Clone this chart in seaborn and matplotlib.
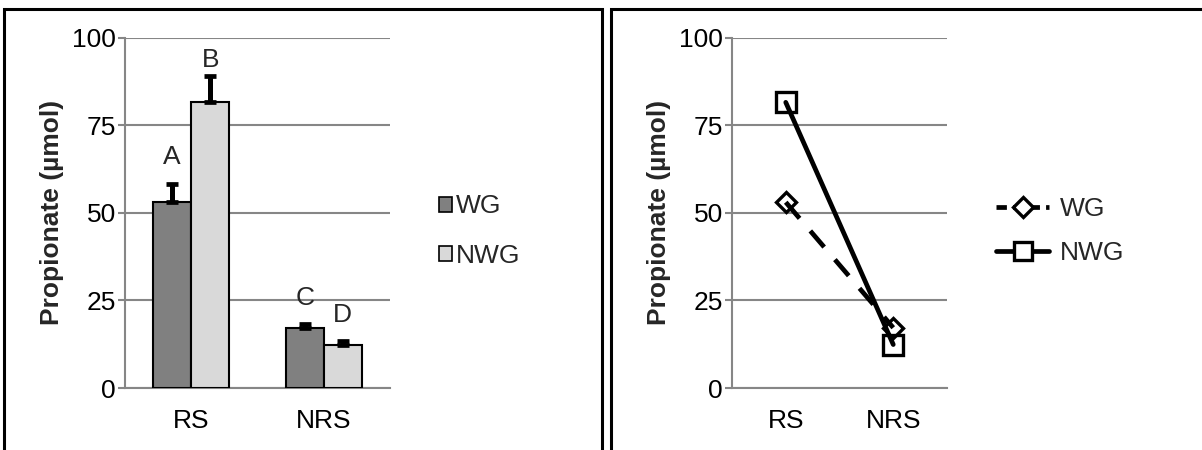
import matplotlib
matplotlib.use("Agg")
import matplotlib.pyplot as plt
import matplotlib.patches as mpatches
from matplotlib.lines import Line2D
import numpy as np
import pandas as pd
import seaborn as sns

# Data
sites = ["RS", "NRS"]
groups = ["WG", "NWG"]
wg_mean = [53.0, 17.2]
nwg_mean = [81.5, 12.4]
wg_err = [5.1, 1.1]
nwg_err = [7.5, 0.9]
wg_letters = ["A", "C"]
nwg_letters = ["B", "D"]

df = pd.DataFrame({
    "site": sites * 2,
    "group": [groups[0]] * 2 + [groups[1]] * 2,
    "value": wg_mean + nwg_mean,
})

sns.set_theme(style="white")
plt.rcParams["font.family"] = ["Liberation Sans", "DejaVu Sans"]

W, H = 1202, 450
fig = plt.figure(figsize=(W / 100, H / 100), dpi=100)
FS = 19


def px_axes(x0, y0, x1, y1):
    return fig.add_axes([x0 / W, 1 - y1 / H, (x1 - x0) / W, (y1 - y0) / H])


# Panel frames
for x0, x1 in [(4, 602), (611, 1210)]:
    fig.patches.append(mpatches.Rectangle(
        (x0 / W, -0.05), (x1 - x0) / W, (H + 22 - 8) / H,
        transform=fig.transFigure, fill=False, edgecolor="black", linewidth=2.2))

grid_c = "#868686"


def style_axes(ax):
    ax.set_ylim(0, 100)
    ax.set_yticks([0, 25, 50, 75, 100])
    ax.yaxis.grid(True, color=grid_c, linewidth=1.5)
    ax.set_axisbelow(True)
    for s in ["top", "right"]:
        ax.spines[s].set_visible(False)
    for s in ["left", "bottom"]:
        ax.spines[s].set_color(grid_c)
        ax.spines[s].set_linewidth(1.5)
    ax.set_xlim(-0.5, 1.5)
    ax.set_xticks([0, 1])
    ax.set_xticklabels(sites)
    ax.set_xticks([-0.5, 0.5, 1.5], minor=True)
    ax.tick_params(axis="x", which="major", length=0, labelsize=FS, pad=15, colors="black")
    ax.tick_params(axis="x", which="minor", length=6, width=1.5, color=grid_c, direction="out")
    ax.tick_params(axis="y", length=5, width=1.5, color=grid_c, labelsize=FS, pad=1.5,
                   labelcolor="black", direction="out", left=True)
    ax.set_xlabel("")
    ax.set_ylabel("Propionate (µmol)", fontsize=FS, fontweight="bold", labelpad=6)


# Left: bar chart with upper error bars
ax1 = px_axes(125, 37.5, 390, 388)
sns.barplot(data=df, x="site", y="value", hue="group", order=sites, hue_order=groups,
            palette=["#808080", "#d9d9d9"], width=0.574, edgecolor="black",
            linewidth=1.5, errorbar=None, ax=ax1, legend=False, zorder=3)
style_axes(ax1)

errs = wg_err + nwg_err
letters = wg_letters + nwg_letters
label_gap = [4.5, 4.0, 1.2, 4.2]
bars = ax1.patches[:4]
for bar, err, let, gap in zip(bars, errs, letters, label_gap):
    xc = bar.get_x() + bar.get_width() / 2
    top = bar.get_height()
    ax1.errorbar(xc, top, yerr=[[0], [err]], fmt="none", ecolor="black",
                 elinewidth=3.6, capsize=4.5, capthick=3.4, zorder=4)
    ax1.text(xc, top + err + gap, let, ha="center", va="bottom", fontsize=FS, zorder=5)

handles1 = [mpatches.Patch(facecolor=c, edgecolor="black", linewidth=1.2, label=g)
            for c, g in zip(["#808080", "#d9d9d9"], groups)]
fig.legend(handles=handles1, loc="center left", bbox_to_anchor=(426 / W, 1 - 231 / H),
           frameon=False, fontsize=FS, handlelength=0.5, handleheight=0.5,
           handletextpad=0.15, labelspacing=0.95, borderpad=0)

# Right: interaction plot
ax2 = px_axes(732, 37.5, 947, 388)
sns.pointplot(data=df, x="site", y="value", hue="group", order=sites, hue_order=groups,
              palette=["black", "black"], markers=["D", "s"], linestyles=["--", "-"],
              errorbar=None, ax=ax2, legend=False, zorder=3)
style_axes(ax2)
for line, ms, dash in zip(ax2.lines[:2], [10, 15], [True, False]):
    line.set_markerfacecolor("none")
    line.set_markeredgecolor("black")
    line.set_markeredgewidth(2.4)
    line.set_markersize(ms)
    line.set_linewidth(3.4)
    if dash:
        line.set_dashes([4.5, 3.5])

handles2 = [Line2D([], [], color="black", linestyle="--", dashes=[2.2, 1.3], linewidth=3.4,
                   marker="D", markersize=10, markerfacecolor="white",
                   markeredgewidth=2.4, label="WG"),
            Line2D([], [], color="black", linestyle="-", linewidth=3.4, marker="s",
                   markersize=13, markerfacecolor="white", markeredgewidth=2.4,
                   label="NWG")]
fig.legend(handles=handles2, loc="center left", bbox_to_anchor=(983 / W, 1 - 231 / H),
           frameon=False, fontsize=FS, handlelength=2.0, handletextpad=0.4,
           labelspacing=0.75, borderpad=0)

fig.savefig("out.png", dpi=100)
